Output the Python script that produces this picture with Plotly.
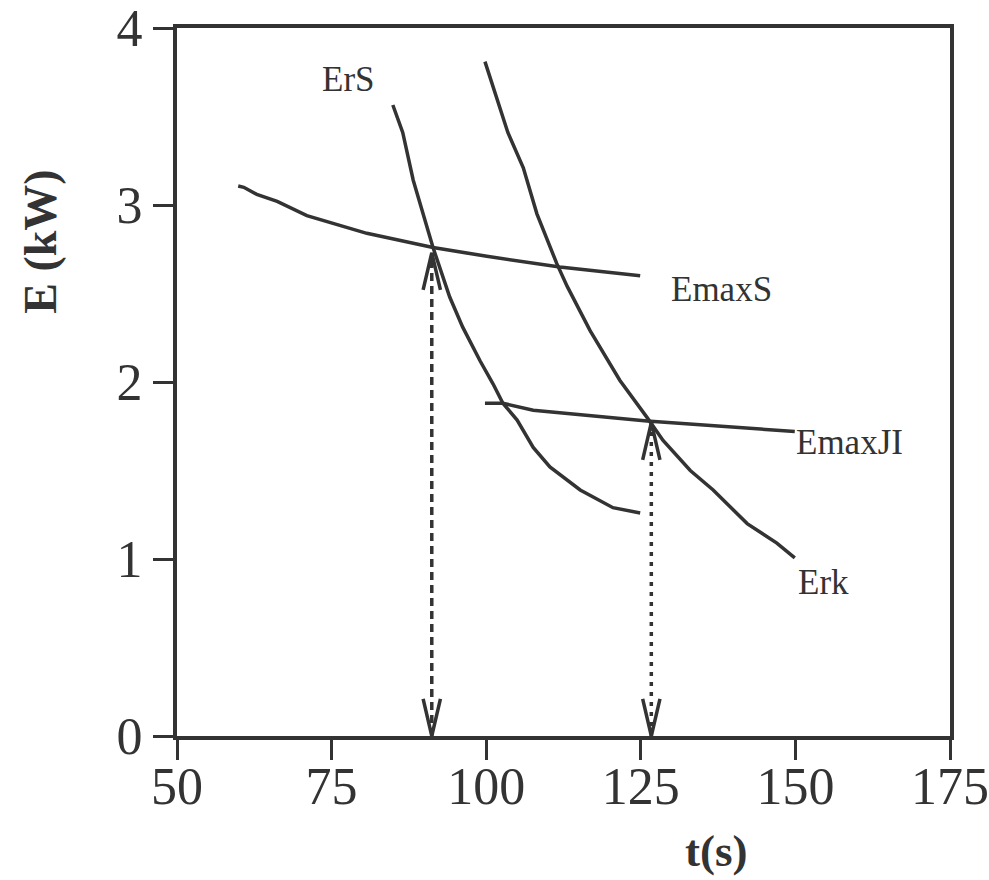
import plotly.graph_objects as go

# ---- data ----
ers_t = [84.9, 86.5, 88.2, 89.8, 91.4, 94.1, 96.2, 99.0, 101.1, 102.7, 105.0, 107.6, 110.3, 115.2, 120.5, 124.9]
ers_e = [3.565, 3.41, 3.14, 2.95, 2.76, 2.48, 2.31, 2.12, 1.99, 1.88, 1.785, 1.63, 1.52, 1.39, 1.29, 1.26]

erk_t = [99.8, 100.6, 101.9, 103.5, 106.0, 108.2, 111.4, 113.1, 116.8, 121.6, 126.0, 128.6, 133.0, 136.7, 142.2, 147.0, 149.9]
erk_e = [3.81, 3.72, 3.59, 3.41, 3.21, 2.95, 2.67, 2.54, 2.29, 2.01, 1.80, 1.67, 1.50, 1.39, 1.20, 1.09, 1.006]

emaxs_t = [59.9, 60.8, 62.9, 66.2, 71.0, 80.7, 91.4, 100.1, 111.9, 124.9]
emaxs_e = [3.107, 3.10, 3.06, 3.02, 2.94, 2.84, 2.76, 2.71, 2.65, 2.60]

emaxji_t = [99.8, 102.7, 107.6, 126.0, 149.9]
emaxji_e = [1.88, 1.88, 1.84, 1.78, 1.72]

# operating points (arrow tips) and their dash styles
op_t = [91.2, 126.7]
op_e = [2.73, 1.77]
op_dash = ["8px,5px", "4px,6px"]

labels = ["ErS", "EmaxS", "EmaxJI", "Erk"]
label_t = [77.8, 138.1, 158.8, 154.6]
label_e = [3.71, 2.52, 1.66, 0.865]

x_ticks = [50, 75, 100, 125, 150, 175]
y_ticks = [0, 1, 2, 3, 4]

INK = "#333333"
SERIF = "Liberation Serif, Times New Roman, serif"

fig = go.Figure()

for t, e in [(ers_t, ers_e), (erk_t, erk_e), (emaxs_t, emaxs_e), (emaxji_t, emaxji_e)]:
    fig.add_trace(go.Scatter(x=t, y=e, mode="lines", line=dict(color=INK, width=3.5),
                             hoverinfo="skip", showlegend=False))

# head half-width and length in data units
hw, hl = 1.4, 0.21
for t, e, d in zip(op_t, op_e, op_dash):
    fig.add_trace(go.Scatter(x=[t, t], y=[0, e], mode="lines",
                             line=dict(color=INK, width=3.5, dash=d),
                             hoverinfo="skip", showlegend=False))
    # upward head at the top
    fig.add_trace(go.Scatter(x=[t - hw, t, t + hw], y=[e - hl, e, e - hl], mode="lines",
                             line=dict(color=INK, width=3.5), hoverinfo="skip", showlegend=False))
    # downward head at the bottom
    fig.add_trace(go.Scatter(x=[t - hw, t, t + hw], y=[hl, 0, hl], mode="lines",
                             line=dict(color=INK, width=3.5), hoverinfo="skip", showlegend=False))

for txt, t, e in zip(labels, label_t, label_e):
    fig.add_annotation(x=t, y=e, text=txt, showarrow=False,
                       font=dict(family=SERIF, size=35, color=INK))

fig.add_annotation(xref="paper", yref="paper", x=-0.176, y=0.698, text="<b>E (kW)</b>",
                   textangle=-90, showarrow=False, xanchor="center", yanchor="middle",
                   font=dict(family=SERIF, size=46, color=INK))
fig.add_annotation(xref="paper", yref="paper", x=0.697, y=-0.163, text="<b>t(s)</b>",
                   showarrow=False, xanchor="center", yanchor="middle",
                   font=dict(family=SERIF, size=45, color=INK))

axis_common = dict(showline=True, linewidth=4, linecolor=INK, mirror=True,
                   ticks="outside", ticklen=20, tickwidth=3, tickcolor=INK,
                   showgrid=False, zeroline=False, automargin=False,
                   tickfont=dict(family=SERIF, size=52, color=INK))

fig.update_xaxes(range=[50, 175], tickvals=x_ticks, ticktext=[str(v) for v in x_ticks],
                 ticklabelstandoff=-18, **axis_common)
fig.update_yaxes(range=[0, 4], tickvals=y_ticks, ticktext=[str(v) for v in y_ticks],
                 ticklabelstandoff=0, **axis_common)

fig.update_layout(width=989, height=880, margin=dict(l=177, r=39, t=28, b=144),
                  plot_bgcolor="white", paper_bgcolor="white", showlegend=False)

fig.write_html("out.html", config={"displayModeBar": False},
               post_script="document.body.style.margin='0';")
